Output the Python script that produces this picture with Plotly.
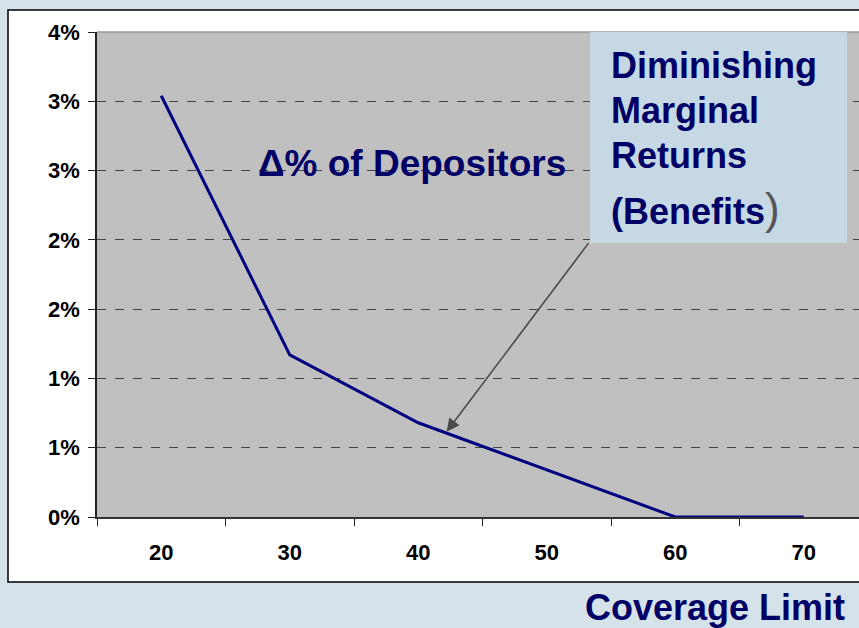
import plotly.graph_objects as go

coverage = ["20", "30", "40", "50", "60", "70"]
delta_depositors = [0.0304, 0.0117, 0.0068, 0.0034, 0.0, 0.0]
y_tick_vals = [0.0, 0.005, 0.010, 0.015, 0.020, 0.025, 0.030, 0.035]
y_tick_text = ["0%", "1%", "1%", "2%", "2%", "3%", "3%", "4%"]

W, H = 859, 628
L, R, T, B = 97, 0, 32, 111
pw, ph = W - L - R, H - T - B

def px(x):
    return (x - L) / pw

def py(y):
    return (H - B - y) / ph

FONT = "Arial, Liberation Sans, sans-serif"
NAVY = "#000066"

fig = go.Figure()
fig.add_trace(go.Scatter(
    x=coverage, y=delta_depositors, mode="lines",
    line=dict(color="#000080", width=3), showlegend=False, hoverinfo="skip",
))

fig.update_layout(
    width=W, height=H,
    margin=dict(l=L, r=R, t=T, b=B),
    paper_bgcolor="#d6e2ea",
    plot_bgcolor="rgba(0,0,0,0)",
    xaxis=dict(
        type="category", range=[-0.5, -0.5 + pw / 128.5],
        tickson="boundaries", ticks="outside", ticklen=7, tickcolor="#222",
        showgrid=False, showline=True, linecolor="#333", linewidth=1.5,
        tickfont=dict(family=FONT, size=22, color="#000", weight="bold"),
        ticklabelstandoff=15, zeroline=False,
    ),
    yaxis=dict(
        range=[0, 0.035], tickvals=y_tick_vals, ticktext=y_tick_text,
        ticks="outside", ticklen=7, tickcolor="#222",
        showgrid=True, gridcolor="#444", griddash="dash", gridwidth=1,
        showline=True, linecolor="#222", linewidth=1.5, zeroline=False,
        tickfont=dict(family=FONT, size=22, color="#000", weight="bold"),
        ticklabelstandoff=4,
    ),
    shapes=[
        dict(type="rect", xref="paper", yref="paper", layer="below",
             x0=px(8), x1=px(W + 20), y0=py(582), y1=py(10),
             fillcolor="white", line=dict(color="black", width=1.5)),
        dict(type="rect", xref="paper", yref="paper", layer="below",
             x0=0, x1=1.01, y0=0, y1=1,
             fillcolor="#c0c0c0", line=dict(width=0)),
        dict(type="line", xref="paper", yref="paper", layer="above",
             x0=0, x1=1, y0=1, y1=1, line=dict(color="#999", width=1.5)),
        dict(type="rect", xref="paper", yref="paper", layer="above",
             x0=px(590), x1=px(847), y0=py(243), y1=py(32),
             fillcolor="#c6d8e3", line=dict(width=0)),
    ],
)

ann = []
ann.append(dict(x=px(412), y=py(163), xref="paper", yref="paper",
                text="<b>Δ% of Depositors</b>", showarrow=False,
                xanchor="center", yanchor="middle",
                font=dict(family=FONT, size=37, color=NAVY)))
for txt, yy in [("Diminishing", 66), ("Marginal", 111), ("Returns", 155)]:
    ann.append(dict(x=px(609), y=py(yy), xref="paper", yref="paper",
                    text=f"<b>{txt}</b>", showarrow=False,
                    xanchor="left", yanchor="middle",
                    font=dict(family=FONT, size=36, color=NAVY)))
ann.append(dict(x=px(609), y=py(208), xref="paper", yref="paper",
                text="<b>(Benefits</b><span style='color:#555;font-size:44px'>)</span>",
                showarrow=False, xanchor="left", yanchor="middle",
                font=dict(family=FONT, size=36, color=NAVY)))
ann.append(dict(x=px(847), y=py(607), xref="paper", yref="paper",
                text="<b>Coverage Limit</b>", showarrow=False,
                xanchor="right", yanchor="middle",
                font=dict(family=FONT, size=36, color=NAVY)))
ann.append(dict(x=2.221, y=0.00616, xref="x", yref="y", text="",
                showarrow=True, arrowhead=2, arrowsize=1.6, arrowwidth=1.6,
                arrowcolor="#4a4a4a", ax=143, ay=-190))
fig.update_layout(annotations=ann)

fig.write_html(
    "out.html",
    config={"displayModeBar": False},
    post_script="document.body.style.margin='0';document.body.style.overflow='hidden';",
)
